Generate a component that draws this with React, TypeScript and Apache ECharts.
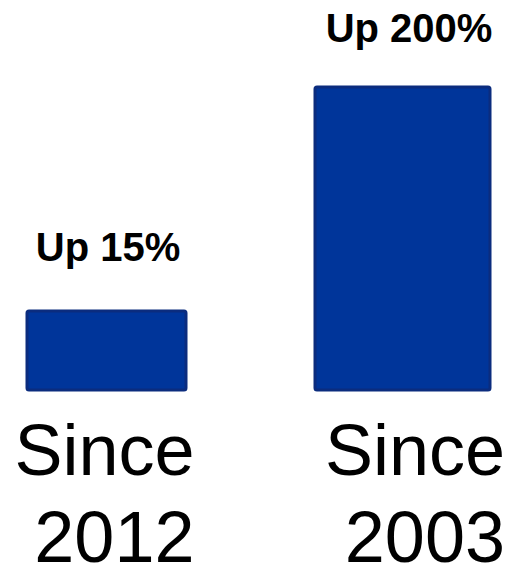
import React, { useEffect, useRef } from "react";
import * as echarts from "echarts";

const categories = ["Since\n2012", "Since\n2003"];
const barValues = [26.8, 100];
const barLabels = ["Up 15%", "Up 200%"];

export default function App() {
  const ref = useRef<HTMLDivElement>(null);
  useEffect(() => {
    document.body.style.margin = "0";
    const chart = echarts.init(ref.current!, null, { renderer: "svg" });
    const xAxisBase = {
      type: "category" as const,
      data: categories.map((c, i) => ({
        value: c,
        textStyle: { padding: i === 0 ? [0, 6, 0, 0] : [0, 0, 0, 23] },
      })),
      boundaryGap: false,
      axisLine: { show: false },
      axisTick: { show: false },
      splitLine: { show: false },
    };
    const labelFont = {
      width: 182,
      align: "right",
      fontSize: 72,
      fontFamily: "Liberation Sans, Arial, sans-serif",
      color: "#000000",
    };
    chart.setOption({
      animation: false,
      backgroundColor: "#ffffff",
      grid: {
        left: 106.5,
        right: 109.5,
        top: 85.5,
        bottom: 175.5,
        containLabel: false,
        outerBoundsMode: "none",
      },
      xAxis: [
        {
          ...xAxisBase,
          axisLabel: {
            show: true,
            margin: 0,
            interval: 0,
            hideOverlap: false,
            formatter: (v: string) => {
              const [l1, l2] = v.split("\n");
              return `{a|${l1}}\n{b|${l2}}`;
            },
            rich: {
              a: { ...labelFont, lineHeight: 117 },
              b: { ...labelFont, lineHeight: 57 },
            },
          },
        },
        { ...xAxisBase, axisLabel: { show: false } },
      ],
      yAxis: {
        type: "value",
        min: 0,
        max: 100,
        show: false,
      },
      series: [
        {
          type: "bar",
          xAxisIndex: 0,
          data: [barValues[0], null],
          barWidth: 162,
          itemStyle: { color: "#00359a", borderColor: "#0b2c7e", borderWidth: 3, borderRadius: 2 },
          label: {
            show: true,
            position: "top",
            distance: 42.5,
            offset: [1.5, 0],
            formatter: () => barLabels[0],
            fontSize: 40,
            fontWeight: "bold",
            fontFamily: "Liberation Sans, Arial, sans-serif",
            color: "#000000",
          },
        },
        {
          type: "bar",
          xAxisIndex: 1,
          data: [null, barValues[1]],
          barWidth: 178,
          itemStyle: { color: "#00359a", borderColor: "#0b2c7e", borderWidth: 3, borderRadius: 2 },
          label: {
            show: true,
            position: "top",
            distance: 37.5,
            offset: [6.5, 0],
            formatter: () => barLabels[1],
            fontSize: 40,
            fontWeight: "bold",
            fontFamily: "Liberation Sans, Arial, sans-serif",
            color: "#000000",
          },
        },
      ],
    });
    return () => chart.dispose();
  }, []);
  return <div ref={ref} style={{ width: 512, height: 567 }} />;
}
